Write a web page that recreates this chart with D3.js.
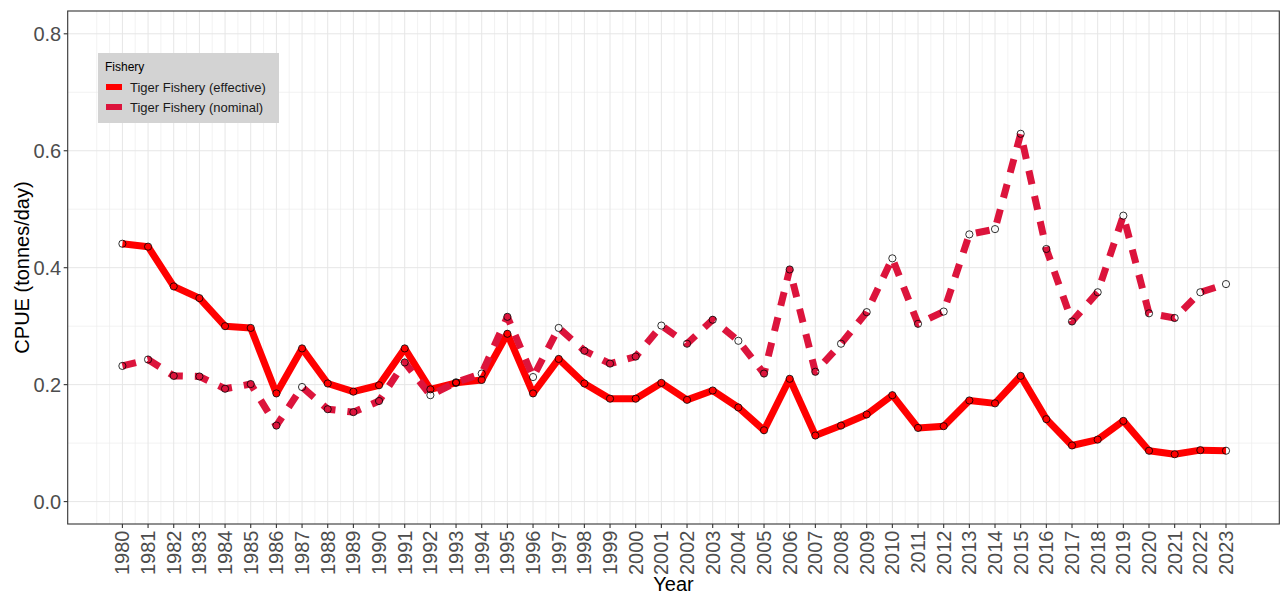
<!DOCTYPE html>
<html>
<head>
<meta charset="utf-8">
<script src="https://cdn.jsdelivr.net/npm/d3@7"></script>
<style>
  body { margin: 0; background: #fff; }
  text { font-family: "Liberation Sans", Arial, sans-serif; }
</style>
</head>
<body>
<div class="chart"></div>
<script>
let svgWidth = 1281;
let svgHeight = 594;

// panel edges in pixels
let panel = { left: 67.7, right: 1279.3, top: 11, bottom: 524 };

let years = [1980, 1981, 1982, 1983, 1984, 1985, 1986, 1987, 1988, 1989, 1990,
    1991, 1992, 1993, 1994, 1995, 1996, 1997, 1998, 1999, 2000, 2001, 2002,
    2003, 2004, 2005, 2006, 2007, 2008, 2009, 2010, 2011, 2012, 2013, 2014,
    2015, 2016, 2017, 2018, 2019, 2020, 2021, 2022, 2023];

let effective = [0.441, 0.436, 0.368, 0.348, 0.300, 0.297, 0.185, 0.262, 0.202, 0.188,
    0.199, 0.262, 0.192, 0.203, 0.208, 0.287, 0.185, 0.244, 0.202, 0.176, 0.176,
    0.203, 0.174, 0.190, 0.161, 0.122, 0.210, 0.113, 0.130, 0.149, 0.182, 0.126,
    0.129, 0.173, 0.168, 0.215, 0.141, 0.096, 0.106, 0.138, 0.087, 0.081, 0.088, 0.087];

let nominal = [0.232, 0.243, 0.215, 0.214, 0.193, 0.201, 0.130, 0.196, 0.158, 0.153,
    0.172, 0.238, 0.182, 0.204, 0.219, 0.316, 0.213, 0.297, 0.258, 0.236, 0.248,
    0.301, 0.270, 0.311, 0.275, 0.219, 0.397, 0.222, 0.270, 0.324, 0.416, 0.304,
    0.325, 0.457, 0.466, 0.629, 0.432, 0.308, 0.358, 0.489, 0.322, 0.314, 0.358, 0.372];

let yTicks = [0.0, 0.2, 0.4, 0.6, 0.8];
let yMinor = [0.1, 0.3, 0.5, 0.7];

let seriesNames = ["Tiger Fishery (effective)", "Tiger Fishery (nominal)"];
let seriesColors = ["#ff0000", "#dc143c"];

let svg = d3.select(".chart")
    .append("svg")
    .attr("width", svgWidth)
    .attr("height", svgHeight);

let xScale = d3.scaleLinear()
    .domain([1980, 2023])
    .range([122.4, 1226]);
let yScale = d3.scaleLinear()
    .domain([0, 0.8])
    .range([501.6, 33.8]);

// x minor breaks: half years, extended one year each side
let xMinor = [];
for (let i = 0; i <= years.length; i++) {
    xMinor.push(years[0] - 1 + i + 0.5);
}
xMinor.push(years[0] - 1, years[years.length - 1] + 1);

let grid = svg.append("g");
grid.selectAll(".xminor")
    .data(xMinor)
    .enter()
    .append("line")
    .attr("x1", d => xScale(d))
    .attr("x2", d => xScale(d))
    .attr("y1", panel.top)
    .attr("y2", panel.bottom)
    .attr("stroke", "#ededed")
    .attr("stroke-width", 0.7);
grid.selectAll(".yminor")
    .data(yMinor)
    .enter()
    .append("line")
    .attr("x1", panel.left)
    .attr("x2", panel.right)
    .attr("y1", d => yScale(d))
    .attr("y2", d => yScale(d))
    .attr("stroke", "#ededed")
    .attr("stroke-width", 0.7);
grid.selectAll(".xmajor")
    .data(years)
    .enter()
    .append("line")
    .attr("x1", d => xScale(d))
    .attr("x2", d => xScale(d))
    .attr("y1", panel.top)
    .attr("y2", panel.bottom)
    .attr("stroke", "#e6e6e6")
    .attr("stroke-width", 1);
grid.selectAll(".ymajor")
    .data(yTicks)
    .enter()
    .append("line")
    .attr("x1", panel.left)
    .attr("x2", panel.right)
    .attr("y1", d => yScale(d))
    .attr("y2", d => yScale(d))
    .attr("stroke", "#e6e6e6")
    .attr("stroke-width", 1);

// lines
let seriesData = [effective, nominal];
let line = d3.line()
    .x((d, i) => xScale(years[i]))
    .y(d => yScale(d));

svg.append("path")
    .datum(effective)
    .attr("d", line)
    .attr("fill", "none")
    .attr("stroke", seriesColors[0])
    .attr("stroke-width", 7)
    .attr("stroke-linejoin", "round")
    .attr("stroke-linecap", "butt");

svg.append("path")
    .datum(nominal)
    .attr("d", line)
    .attr("fill", "none")
    .attr("stroke", seriesColors[1])
    .attr("stroke-width", 7)
    .attr("stroke-dasharray", "14,12")
    .attr("stroke-linejoin", "round")
    .attr("stroke-linecap", "butt");

// open circles on top
seriesData.forEach(function(values) {
    svg.append("g").selectAll("circle")
        .data(values)
        .enter()
        .append("circle")
        .attr("cx", (d, i) => xScale(years[i]))
        .attr("cy", d => yScale(d))
        .attr("r", 3.6)
        .attr("fill", "none")
        .attr("stroke", "#000")
        .attr("stroke-width", 0.8);
});

// panel border
svg.append("rect")
    .attr("x", panel.left)
    .attr("y", panel.top)
    .attr("width", panel.right - panel.left)
    .attr("height", panel.bottom - panel.top)
    .attr("fill", "none")
    .attr("stroke", "#333")
    .attr("stroke-width", 1.1);

// y axis
let yAxis = svg.append("g");
yAxis.selectAll("line")
    .data(yTicks)
    .enter()
    .append("line")
    .attr("x1", panel.left - 4)
    .attr("x2", panel.left)
    .attr("y1", d => yScale(d))
    .attr("y2", d => yScale(d))
    .attr("stroke", "#333")
    .attr("stroke-width", 1.1);
yAxis.selectAll("text")
    .data(yTicks)
    .enter()
    .append("text")
    .attr("x", panel.left - 6.5)
    .attr("y", d => yScale(d))
    .attr("dy", "0.35em")
    .attr("text-anchor", "end")
    .attr("font-size", 20)
    .attr("fill", "#4d4d4d")
    .text(d => d3.format(".1f")(d));

// x axis
let xAxis = svg.append("g");
xAxis.selectAll("line")
    .data(years)
    .enter()
    .append("line")
    .attr("x1", d => xScale(d))
    .attr("x2", d => xScale(d))
    .attr("y1", panel.bottom)
    .attr("y2", panel.bottom + 4)
    .attr("stroke", "#333")
    .attr("stroke-width", 1.1);
xAxis.selectAll("text")
    .data(years)
    .enter()
    .append("text")
    .attr("transform", d => `translate(${xScale(d)}, ${panel.bottom + 6.5}) rotate(-90)`)
    .attr("dy", "0.35em")
    .attr("text-anchor", "end")
    .attr("font-size", 20)
    .attr("fill", "#4d4d4d")
    .text(d => d);

// axis titles
svg.append("text")
    .attr("x", 673.5)
    .attr("y", 591)
    .attr("text-anchor", "middle")
    .attr("font-size", 20)
    .attr("fill", "#000")
    .text("Year");
svg.append("text")
    .attr("transform", `translate(29, ${(panel.top + panel.bottom) / 2}) rotate(-90)`)
    .attr("text-anchor", "middle")
    .attr("font-size", 20)
    .attr("fill", "#000")
    .text("CPUE (tonnes/day)");

// legend
let legend = svg.append("g")
    .attr("transform", "translate(98, 53)");
legend.append("rect")
    .attr("width", 181)
    .attr("height", 70)
    .attr("fill", "#d3d3d3");
legend.append("text")
    .attr("x", 7)
    .attr("y", 18)
    .attr("font-size", 12)
    .attr("fill", "#000")
    .text("Fishery");
seriesNames.forEach(function(name, i) {
    let row = legend.append("g")
        .attr("transform", `translate(0, ${34 + i * 20})`);
    row.append("rect")
        .attr("x", 8)
        .attr("y", -3)
        .attr("width", 16)
        .attr("height", 6)
        .attr("fill", seriesColors[i]);
    row.append("text")
        .attr("x", 32)
        .attr("y", 0)
        .attr("dy", "0.35em")
        .attr("font-size", 13)
        .attr("fill", "#1a1a1a")
        .text(name);
});
</script>
</body>
</html>
